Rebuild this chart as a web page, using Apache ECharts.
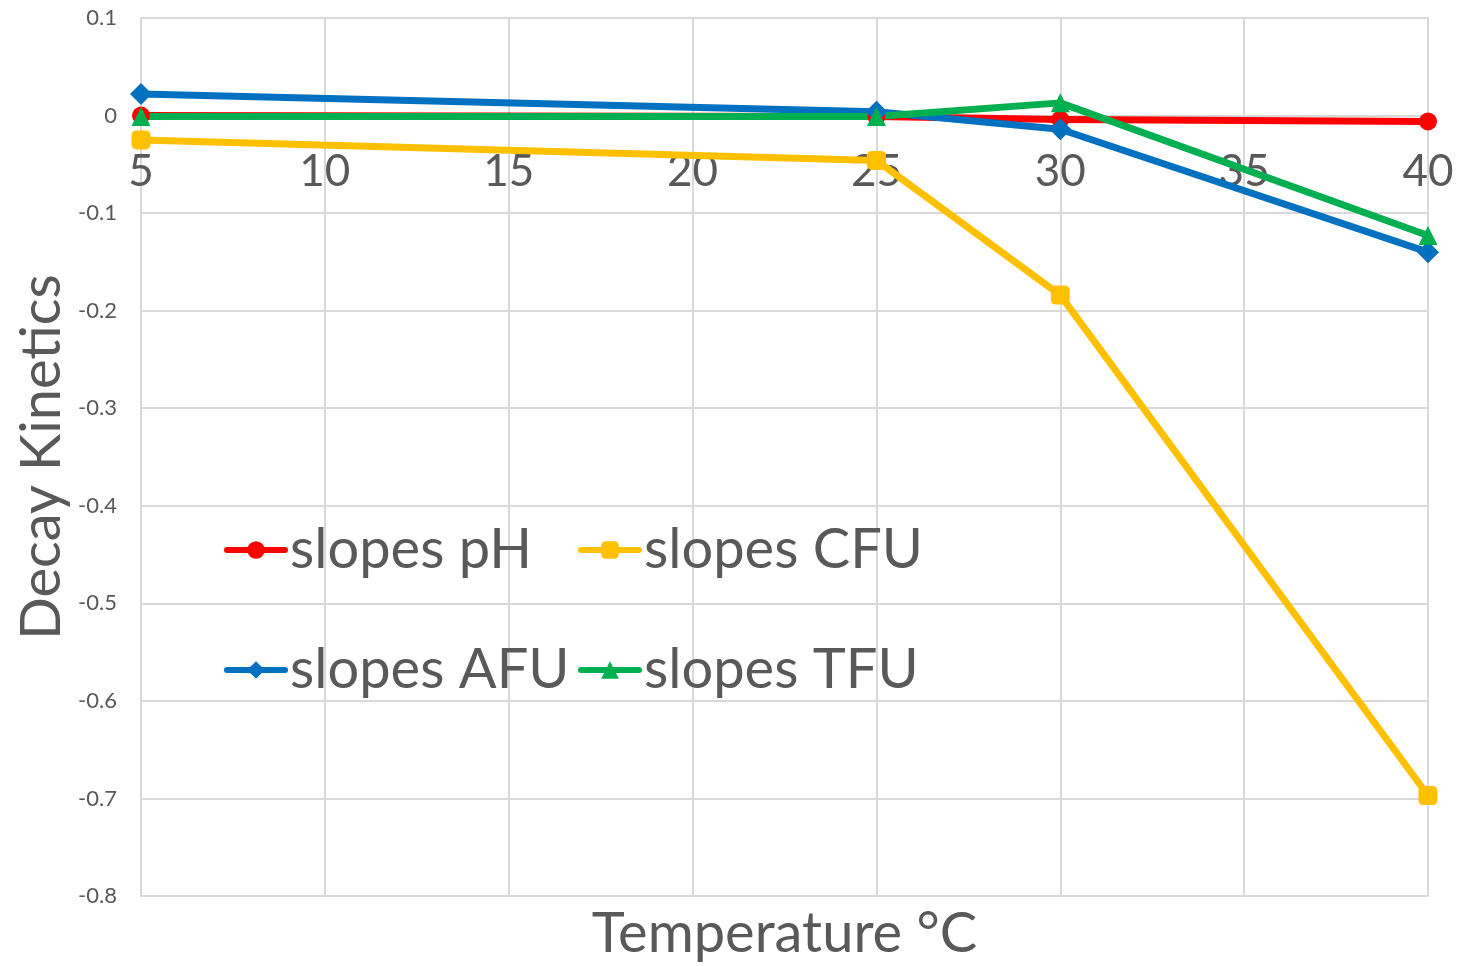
<!DOCTYPE html>
<html>
<head>
<meta charset="utf-8">
<script src="https://cdn.jsdelivr.net/npm/echarts@6/dist/echarts.min.js"></script>
<style>
  html, body { margin: 0; padding: 0; background: #fff; }
  #chart { width: 1465px; height: 966px; }
</style>
</head>
<body>
<div id="chart"></div>
<script>
// Temperatures (°C) at which decay slopes were measured
const temperatures = [5, 25, 30, 40];

// Decay-kinetics slopes per measure
const slopesPH  = [0.000, -0.001, -0.004, -0.006];
const slopesCFU = [-0.025, -0.046, -0.184, -0.697];
const slopesAFU = [0.022, 0.004, -0.014, -0.140];
const slopesTFU = [-0.001, -0.001, 0.013, -0.123];

const xTicks = { min: 5, max: 40, step: 5 };
const yTicks = { min: -0.8, max: 0.1, step: 0.1 };

const FONT = 'Lato, "Noto Sans", sans-serif';
const TEXT = '#595959';
const GRID = '#D9D9D9';

// Plot box inside the 1465x966 canvas
const PLOT = { left: 141, right: 37, top: 18, bottom: 70 };
const PLOT_H = 966 - PLOT.top - PLOT.bottom;

// Temperature labels sit just under the zero line rather than at the bottom edge
const zeroFromBottom = PLOT_H * (0 - yTicks.min) / (yTicks.max - yTicks.min);
const xLabelMargin = -Math.round(zeroFromBottom) + 34;

function pairs(ys) {
  return temperatures.map((t, i) => [t, ys[i]]);
}

function lineSeries(name, ys, color, symbol, size) {
  return {
    name: name,
    type: 'line',
    data: pairs(ys),
    symbol: symbol,
    symbolSize: size,
    lineStyle: { color: color, width: 7, cap: 'round', join: 'round' },
    itemStyle: { color: color },
    emphasis: { disabled: true },
    animation: false
  };
}

const chart = echarts.init(document.getElementById('chart'), null, { renderer: 'canvas' });

const legendCommon = {
  orient: 'vertical',
  top: 517,
  itemGap: 64, itemWidth: 58, itemHeight: 22,
  lineStyle: { width: 6, cap: 'round' },
  textStyle: { fontFamily: FONT, fontSize: 56, color: TEXT }
};

chart.setOption({
  backgroundColor: '#fff',
  animation: false,
  grid: Object.assign({ containLabel: false, outerBoundsMode: 'none' }, PLOT),
  legend: [
    Object.assign({ data: ['slopes pH', 'slopes AFU'], left: 219 }, legendCommon),
    Object.assign({ data: ['slopes CFU', 'slopes TFU'], left: 573 }, legendCommon)
  ],
  xAxis: {
    type: 'value',
    min: xTicks.min, max: xTicks.max, interval: xTicks.step,
    name: 'Temperature °C',
    nameLocation: 'middle',
    nameGap: 10,
    nameMoveOverlap: false,
    nameTextStyle: { fontFamily: FONT, fontSize: 56, color: TEXT },
    axisLine: { show: true, onZero: false, lineStyle: { color: GRID, width: 2 } },
    axisTick: { show: false },
    axisLabel: { fontFamily: FONT, fontSize: 44, color: TEXT, margin: xLabelMargin },
    splitLine: { show: true, lineStyle: { color: GRID, width: 2 } }
  },
  yAxis: {
    type: 'value',
    min: yTicks.min, max: yTicks.max, interval: yTicks.step,
    name: 'Decay Kinetics',
    nameLocation: 'middle',
    nameGap: 71,
    nameRotate: 90,
    nameMoveOverlap: false,
    nameTextStyle: { fontFamily: FONT, fontSize: 56, color: TEXT },
    axisLine: { show: true, onZero: false, lineStyle: { color: GRID, width: 2 } },
    axisTick: { show: false },
    axisLabel: {
      fontFamily: FONT, fontSize: 22, color: TEXT, margin: 24,
      formatter: v => {
        const r = Math.round(v * 10) / 10;
        return r === 0 ? '0' : String(r);
      }
    },
    splitLine: { show: true, lineStyle: { color: GRID, width: 2 } }
  },
  series: [
    lineSeries('slopes pH', slopesPH, '#FF0000', 'circle', 18),
    lineSeries('slopes CFU', slopesCFU, '#FFC000', 'roundRect', 19),
    lineSeries('slopes AFU', slopesAFU, '#0070C0', 'diamond', 22),
    lineSeries('slopes TFU', slopesTFU, '#00B050', 'triangle', 19)
  ]
});
</script>
</body>
</html>
